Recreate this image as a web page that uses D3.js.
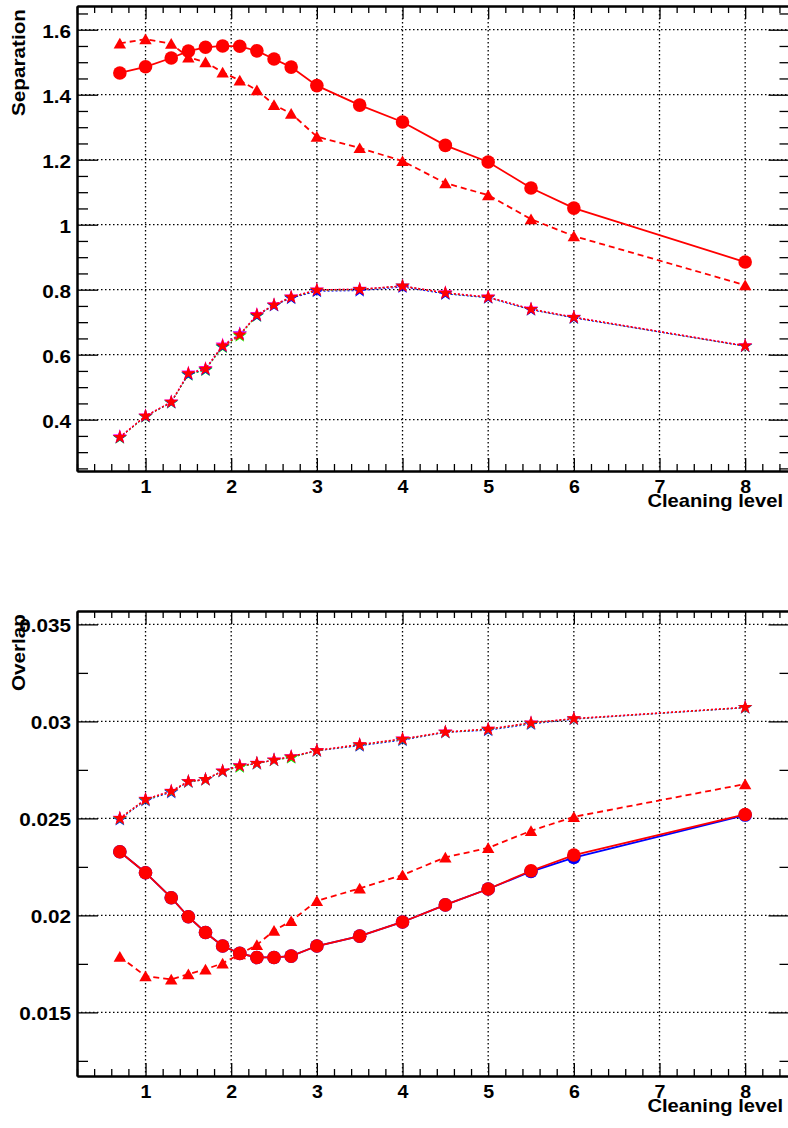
<!DOCTYPE html>
<html>
<head>
<meta charset="utf-8">
<script src="https://cdn.jsdelivr.net/npm/d3@7"></script>
<style>
	body { margin: 0; background: #fff; }
	svg { display: block; }
</style>
</head>
<body>
<div id="chart"></div>
<script>
'use strict'

/**
 * Separation and overlap against cleaning level, two stacked panels.
 */

// Cleaning levels shared by every series
const levels = [0.7, 1, 1.3, 1.5, 1.7, 1.9, 2.1, 2.3, 2.5, 2.7, 3, 3.5, 4, 4.5, 5, 5.5, 6, 8];

// Upper panel : separation
const sepCircleRed = [1.467, 1.486, 1.513, 1.534, 1.546, 1.550, 1.549, 1.535, 1.510, 1.485, 1.428, 1.368, 1.316, 1.244, 1.193, 1.113, 1.051, 0.885];
const sepTriangleRed = [1.558, 1.571, 1.557, 1.515, 1.500, 1.469, 1.444, 1.414, 1.369, 1.342, 1.271, 1.236, 1.196, 1.128, 1.091, 1.017, 0.965, 0.814];
const sepStarGreen = [0.344, 0.409, 0.452, 0.538, 0.552, 0.623, 0.658, 0.719, 0.752, 0.775, 0.797, 0.800, 0.812, 0.788, 0.776, 0.739, 0.714, 0.626];
const sepStarBlue = [0.345, 0.410, 0.453, 0.539, 0.554, 0.625, 0.664, 0.720, 0.751, 0.774, 0.795, 0.797, 0.808, 0.787, 0.775, 0.738, 0.713, 0.626];
const sepStarMagenta = [0.348, 0.412, 0.455, 0.544, 0.558, 0.630, 0.664, 0.724, 0.754, 0.778, 0.800, 0.802, 0.812, 0.791, 0.778, 0.741, 0.716, 0.628];
const sepStarRed = [0.346, 0.411, 0.454, 0.542, 0.556, 0.627, 0.661, 0.722, 0.753, 0.777, 0.799, 0.801, 0.811, 0.790, 0.777, 0.740, 0.715, 0.627];

// Lower panel : overlap
const ovCircleBlue = [0.02328, 0.02220, 0.02091, 0.01993, 0.01912, 0.01842, 0.01804, 0.01783, 0.01783, 0.01790, 0.01842, 0.01893, 0.01966, 0.02054, 0.02136, 0.02226, 0.02298, 0.02517];
const ovCircleRed = [0.02328, 0.02220, 0.02091, 0.01993, 0.01912, 0.01842, 0.01804, 0.01783, 0.01783, 0.01790, 0.01842, 0.01893, 0.01966, 0.02054, 0.02136, 0.02230, 0.02311, 0.02520];
const ovTriangleRed = [0.01787, 0.01687, 0.01670, 0.01697, 0.01722, 0.01753, 0.01800, 0.01848, 0.01921, 0.01971, 0.02075, 0.02139, 0.02208, 0.02299, 0.02348, 0.02436, 0.02508, 0.02677];
const ovStarBlue = [0.02494, 0.02592, 0.02634, 0.02688, 0.02699, 0.02742, 0.02770, 0.02782, 0.02800, 0.02816, 0.02848, 0.02874, 0.02903, 0.02943, 0.02954, 0.02986, 0.03011, 0.03070];
const ovStarGreen = [0.02498, 0.02596, 0.02638, 0.02689, 0.02700, 0.02743, 0.02765, 0.02783, 0.02800, 0.02812, 0.02849, 0.02878, 0.02907, 0.02944, 0.02958, 0.02990, 0.03013, 0.03071];
const ovStarMagenta = [0.02502, 0.02600, 0.02641, 0.02691, 0.02702, 0.02745, 0.02772, 0.02785, 0.02802, 0.02819, 0.02851, 0.02881, 0.02910, 0.02946, 0.02961, 0.02993, 0.03015, 0.03073];
const ovStarRed = [0.02500, 0.02598, 0.02640, 0.02690, 0.02701, 0.02744, 0.02771, 0.02784, 0.02801, 0.02818, 0.02850, 0.02880, 0.02909, 0.02945, 0.02960, 0.02992, 0.03014, 0.03072];

// Ticks
const xMajor = [1, 2, 3, 4, 5, 6, 7, 8];
const xMinor = [0.2, 0.4, 0.6, 0.8, 1.2, 1.4, 1.6, 1.8, 2.2, 2.4, 2.6, 2.8, 3.2, 3.4, 3.6, 3.8, 4.2, 4.4, 4.6, 4.8, 5.2, 5.4, 5.6, 5.8, 6.2, 6.4, 6.6, 6.8, 7.2, 7.4, 7.6, 7.8, 8.2, 8.4];
const sepMajor = [0.4, 0.6, 0.8, 1.0, 1.2, 1.4, 1.6];
const sepMinor = [0.25, 0.3, 0.35, 0.45, 0.5, 0.55, 0.65, 0.7, 0.75, 0.85, 0.9, 0.95, 1.05, 1.1, 1.15, 1.25, 1.3, 1.35, 1.45, 1.5, 1.55, 1.65];
const ovMajor = [0.015, 0.02, 0.025, 0.03, 0.035];
const ovMinor = [0.0125, 0.0175, 0.0225, 0.0275, 0.0325];

const W = 788, H = 1128;
const left = 77, right = 788;
const fontFamily = '"Liberation Sans", Arial, Helvetica, sans-serif';
const textStretch = 'scale(1.12,1)';

const svg = d3.select('#chart')
	.append('svg')
	.attr('width', W)
	.attr('height', H);

const x = d3.scaleLinear().domain([0.2, 8.5]).range([left, right]);

function trianglePath(){
	return 'M0,-5.6L6.2,5.1L-6.2,5.1Z';
}

function fmtNum(d){
	return String(+d.toFixed(4));
}

function styleAxis(g, withText, size){
	g.select('.domain').attr('stroke', '#000').attr('stroke-width', 2);
	g.selectAll('.tick line').attr('stroke', '#000').attr('stroke-width', 1.3);
	if(withText){
		g.selectAll('.tick text')
			.attr('fill', '#000')
			.attr('transform', textStretch)
			.style('font-family', fontFamily)
			.style('font-weight', 'bold')
			.style('font-size', size + 'px');
	}
}

function drawPanel(p){
	const g = svg.append('g');
	const y = d3.scaleLinear().domain(p.yDomain).range([p.bottom, p.top]);

	// Grille en pointillés
	g.append('g')
		.selectAll('line')
		.data(xMajor)
		.enter()
		.append('line')
			.attr('x1', d => x(d))
			.attr('x2', d => x(d))
			.attr('y1', p.top)
			.attr('y2', p.bottom);
	g.append('g')
		.selectAll('line')
		.data(p.yMajor)
		.enter()
		.append('line')
			.attr('x1', left)
			.attr('x2', right)
			.attr('y1', d => y(d))
			.attr('y2', d => y(d));
	g.selectAll('line')
		.attr('stroke', '#000')
		.attr('stroke-width', 1.3)
		.attr('stroke-dasharray', '1.5,2.5');

	// Axes
	g.append('g').attr('transform', `translate(${left},0)`)
		.call(d3.axisLeft(y).tickValues(p.yMinor).tickSizeInner(-11).tickSizeOuter(0).tickFormat(''))
		.call(a => styleAxis(a, false));
	g.append('g').attr('transform', `translate(${left},0)`)
		.call(d3.axisLeft(y).tickValues(p.yMajor).tickSizeInner(-21).tickSizeOuter(0).tickPadding(5.4).tickFormat(fmtNum))
		.call(a => styleAxis(a, true, 18.5))
		.call(a => a.selectAll('.tick text').attr('dy', '0.4em'));
	g.append('g').attr('transform', `translate(${right + 1.5},0)`)
		.call(d3.axisRight(y).tickValues(p.yMinor).tickSizeInner(-10).tickSizeOuter(0).tickFormat(''))
		.call(a => styleAxis(a, false));
	g.append('g').attr('transform', `translate(${right + 1.5},0)`)
		.call(d3.axisRight(y).tickValues(p.yMajor).tickSizeInner(-21).tickSizeOuter(0).tickFormat(''))
		.call(a => styleAxis(a, false));
	g.append('g').attr('transform', `translate(0,${p.bottom})`)
		.call(d3.axisBottom(x).tickValues(xMinor).tickSizeInner(-7).tickSizeOuter(0).tickFormat(''))
		.call(a => styleAxis(a, false));
	g.append('g').attr('transform', `translate(0,${p.bottom})`)
		.call(d3.axisBottom(x).tickValues(xMajor).tickSizeInner(-13).tickSizeOuter(0).tickPadding(10).tickFormat(d3.format('d')))
		.call(a => styleAxis(a, true, 17.5));
	g.append('g').attr('transform', `translate(0,${p.top})`)
		.call(d3.axisTop(x).tickValues(xMinor).tickSizeInner(-7).tickSizeOuter(0).tickFormat(''))
		.call(a => styleAxis(a, false));
	g.append('g').attr('transform', `translate(0,${p.top})`)
		.call(d3.axisTop(x).tickValues(xMajor).tickSizeInner(-13).tickSizeOuter(0).tickFormat(''))
		.call(a => styleAxis(a, false));

	// Courbes et marqueurs
	const line = d3.line()
		.x((d, i) => x(levels[i]))
		.y(d => y(d));

	for(let s of p.series){
		g.append('path')
			.datum(s.values)
			.attr('d', line)
			.attr('fill', 'none')
			.attr('stroke', s.color)
			.attr('stroke-width', s.width || 1.8)
			.attr('stroke-dasharray', s.dash);

		let shape;
		if(s.marker === 'circle') shape = d3.symbol().type(d3.symbolCircle).size(145)();
		else if(s.marker === 'star') shape = d3.symbol().type(d3.symbolStar).size(62)();
		else shape = trianglePath();

		g.append('g')
			.selectAll('path')
			.data(s.values)
			.enter()
			.append('path')
				.attr('d', shape)
				.attr('transform', (d, i) => `translate(${x(levels[i])},${y(d)})`)
				.attr('fill', s.color);
	}

	// Titres des axes
	g.append('text')
		.attr('transform', `translate(25,${p.top + 3}) rotate(-90) ${textStretch}`)
		.attr('text-anchor', 'end')
		.style('font-family', fontFamily)
		.style('font-weight', 'bold')
		.style('font-size', '18.5px')
		.text(p.yTitle);
	g.append('text')
		.attr('transform', `translate(783,${p.bottom + 36}) ${textStretch}`)
		.attr('text-anchor', 'end')
		.style('font-family', fontFamily)
		.style('font-weight', 'bold')
		.style('font-size', '18px')
		.text('Cleaning level');
}

const red = '#ff0000', blue = '#0000ff', green = '#00ff00', magenta = '#ff00ff';
const dashed = '6,4', dotted = '2,2';

drawPanel({
	top: 6,
	bottom: 471,
	yDomain: [0.242, 1.673],
	yMajor: sepMajor,
	yMinor: sepMinor,
	yTitle: 'Separation',
	series: [
		{ values: sepCircleRed, color: red, marker: 'circle' },
		{ values: sepTriangleRed, color: red, marker: 'triangle', dash: dashed },
		{ values: sepStarGreen, color: green, marker: 'star', dash: dotted, width: 1 },
		{ values: sepStarBlue, color: blue, marker: 'star', dash: dotted, width: 1 },
		{ values: sepStarMagenta, color: magenta, marker: 'star', dash: dotted, width: 1 },
		{ values: sepStarRed, color: red, marker: 'star', dash: dotted, width: 1.6 }
	]
});

drawPanel({
	top: 611,
	bottom: 1076,
	yDomain: [0.01172, 0.03569],
	yMajor: ovMajor,
	yMinor: ovMinor,
	yTitle: 'Overlap',
	series: [
		{ values: ovCircleBlue, color: blue, marker: 'circle' },
		{ values: ovCircleRed, color: red, marker: 'circle' },
		{ values: ovTriangleRed, color: red, marker: 'triangle', dash: dashed },
		{ values: ovStarBlue, color: blue, marker: 'star', dash: dotted, width: 1 },
		{ values: ovStarGreen, color: green, marker: 'star', dash: dotted, width: 1 },
		{ values: ovStarMagenta, color: magenta, marker: 'star', dash: dotted, width: 1 },
		{ values: ovStarRed, color: red, marker: 'star', dash: dotted, width: 1.6 }
	]
});
</script>
</body>
</html>
